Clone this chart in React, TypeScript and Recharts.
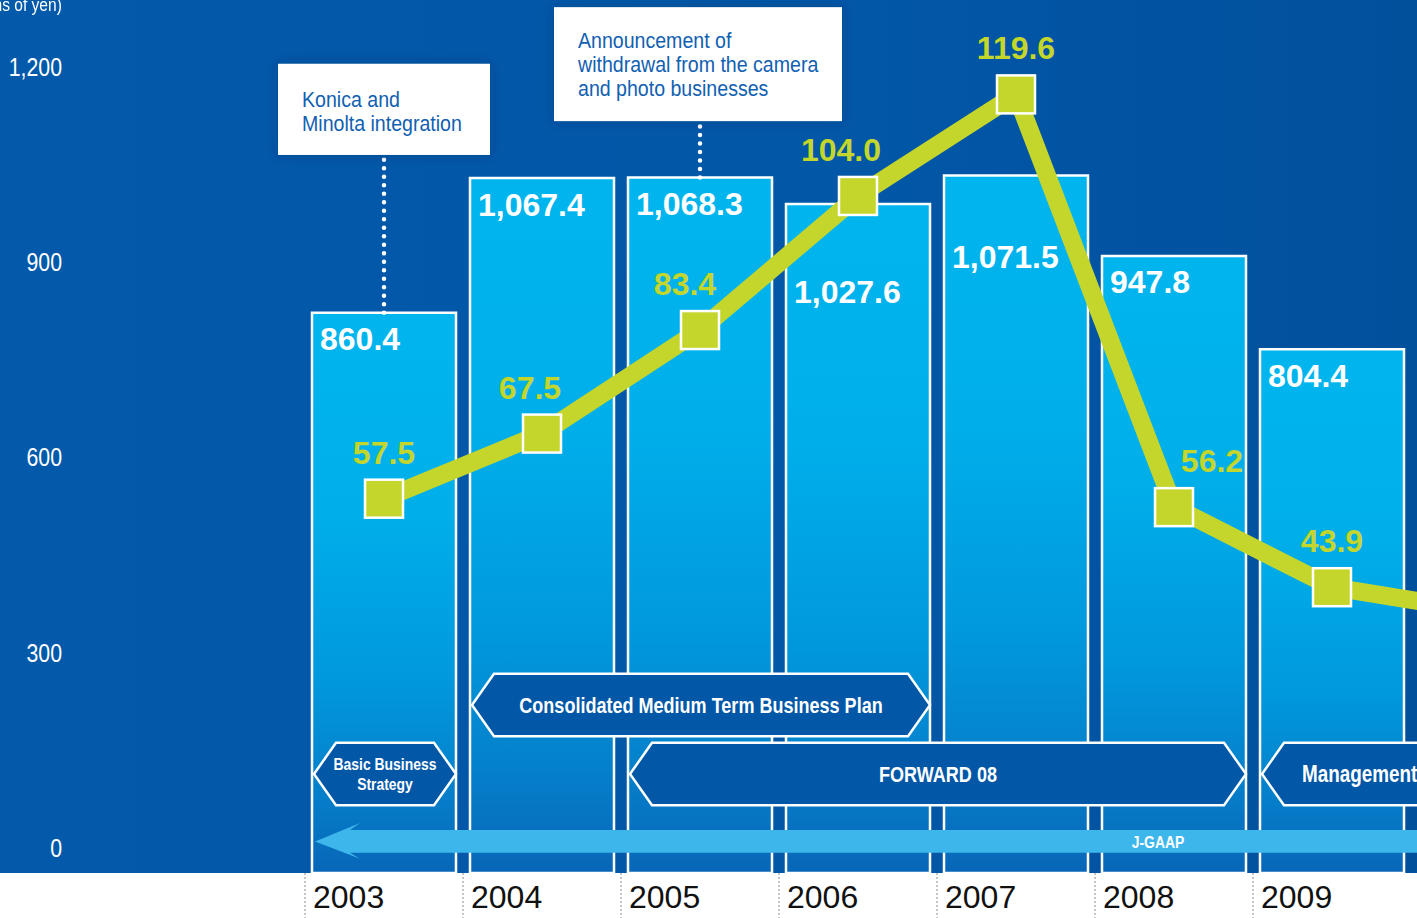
import React from 'react';
import {
  ComposedChart,
  Bar,
  Line,
  XAxis,
  YAxis,
  ReferenceArea,
  ReferenceLine,
  ReferenceDot,
  LabelList,
} from 'recharts';

// ---- data ----
const years = ['2003', '2004', '2005', '2006', '2007', '2008', '2009', '2010'];
const netSales: (number | null)[] = [860.4, 1067.4, 1068.3, 1027.6, 1071.5, 947.8, 804.4, null];
const operatingIncome = [57.5, 67.5, 83.4, 104.0, 119.6, 56.2, 43.9, 40.0];
const yTicks = [0, 300, 600, 900, 1200];
const unitLabel = '(Billions of yen)';

const plans = [
  { lines: ['Consolidated Medium Term Business Plan'], from: '2004', to: '2006', row: 0 },
  { lines: ['Basic Business', 'Strategy'], from: '2003', to: '2003', row: 1 },
  { lines: ['FORWARD 08'], from: '2005', to: '2008', row: 1 },
  { lines: ['Management'], from: '2009', to: '2010', row: 1, start: true },
];

const events = [
  { year: '2003', lines: ['Konica and', 'Minolta integration'] },
  { year: '2005', lines: ['Announcement of', 'withdrawal from the camera', 'and photo businesses'] },
];

const accounting = { label: 'J-GAAP', from: '2003', to: '2010', labelAt: '2008' };

const data = years.map((y, i) => ({ year: y, sales: netSales[i], op: operatingIncome[i] }));

// ---- styles ----
const SANS = '"Liberation Sans", Arial, Helvetica, sans-serif';
const NARROW_SX = 0.82;
const LIME = '#c4d62c';
const BG = '#0257a7';
const BANNER = '#0257a7';
const Y_MAX = 1341;
const rowRange = [
  [210, 306],
  [104, 200],
];
const eventBox = [
  { y1: 1103, y2: 1243, w: 212, dx: 0, textTop: 43.5 },
  { y1: 1155, y2: 1330, w: 288, dx: -2, textTop: 40.5 },
];
const barLabelDy: Record<number, number> = { 3: 61, 4: 55 };
const lineLabelDx: Record<number, number> = { 1: -12, 2: -15, 3: -17, 5: 38 };

const fmt = (v: number) =>
  v.toLocaleString('en-US', { minimumFractionDigits: 1, maximumFractionDigits: 1 });

// condensed text: Liberation Sans squeezed horizontally
const NText = (props: any) => {
  const { x, y, sx = NARROW_SX, children, ...rest } = props;
  return (
    <text transform={`translate(${x},${y}) scale(${sx},1)`} x={0} y={0} fontFamily={SANS} {...rest}>
      {children}
    </text>
  );
};

const YTick = (props: any) => {
  const { x, y, payload } = props;
  return (
    <NText x={x} y={y - 16} textAnchor="end" fill="#ffffff" fontSize={26}>
      {payload.value.toLocaleString('en-US')}
    </NText>
  );
};

const YearTick = (props: any) => {
  const { x, y, payload, index } = props;
  if (netSales[index] == null) return null;
  return (
    <g>
      <line x1={x - 79} x2={x - 79} y1={y} y2={y + 45} stroke="#8c8c8c" strokeWidth={1} strokeDasharray="2 2" />
      <text x={x - 71} y={y + 35} fill="#111" fontFamily={SANS} fontSize={32}>
        {payload.value}
      </text>
    </g>
  );
};

const BarValueLabel = (props: any) => {
  const { x, y, value, index } = props;
  if (value == null) return null;
  return (
    <text
      x={Number(x) + 8}
      y={Number(y) + 37.5 + (barLabelDy[index] || 0)}
      fill="#ffffff"
      fontFamily={SANS}
      fontWeight="bold"
      fontSize={32}
    >
      {fmt(value)}
    </text>
  );
};

const LineValueLabel = (props: any) => {
  const { x, y, value, index } = props;
  if (value == null) return null;
  return (
    <text
      x={Number(x) + (lineLabelDx[index] || 0)}
      y={Number(y) - 35}
      textAnchor="middle"
      fill={LIME}
      fontFamily={SANS}
      fontWeight="bold"
      fontSize={32}
    >
      {Number(value).toFixed(1)}
    </text>
  );
};

const SquareDot = (props: any) => {
  const { cx, cy, index } = props;
  if (cx == null || cy == null) return <g key={`d${index}`} />;
  return (
    <rect
      key={`d${index}`}
      x={cx - 19}
      y={cy - 19}
      width={38}
      height={38}
      fill={LIME}
      stroke="#ffffff"
      strokeWidth={2.5}
    />
  );
};

const Banner = (props: any) => {
  const { x, y, width, height, lines, start } = props;
  const x0 = x + 9;
  const x1 = x + width - 7;
  const ym = y + height / 2;
  const ind = 22;
  const pts = [
    [x0, ym],
    [x0 + ind, y],
    [x1 - ind, y],
    [x1, ym],
    [x1 - ind, y + height],
    [x0 + ind, y + height],
  ]
    .map((p) => p.join(','))
    .join(' ');
  const two = lines.length > 1;
  const fs = two ? 17 : start ? 23 : 22;
  return (
    <g>
      <polygon points={pts} fill={BANNER} stroke="#ffffff" strokeWidth={2.5} />
      {lines.map((t: string, i: number) => (
        <NText
          key={i}
          x={start ? x0 + 40 : (x0 + x1) / 2}
          y={two ? ym - 10 + i * 20 + 6 : ym + 8}
          textAnchor={start ? 'start' : 'middle'}
          fill="#ffffff"
          fontWeight="bold"
          fontSize={fs}
        >
          {t}
        </NText>
      ))}
    </g>
  );
};

const Arrow = (props: any) => {
  const { x, y, width, height } = props;
  const tip = x + 10;
  const back = x + 55;
  const end = x + width;
  const pts = [
    [tip, y + height / 2],
    [back, y - 7],
    [back - 10, y],
    [end, y],
    [end, y + height],
    [back - 10, y + height],
    [back, y + height + 6],
  ]
    .map((p) => p.join(','))
    .join(' ');
  return <polygon points={pts} fill="#3db6eb" />;
};

const EventBox = (props: any) => {
  const { x, y, width, height, lines, box } = props;
  const cx = x + width / 2 + box.dx;
  const left = cx - box.w / 2;
  return (
    <g>
      <rect x={left} y={y} width={box.w} height={height} fill="#ffffff" filter="url(#boxShadow)" />
      {lines.map((t: string, i: number) => (
        <NText key={i} x={left + 24} y={y + box.textTop + i * 24} sx={0.87} fill="#1160b1" fontSize={22.5}>
          {t}
        </NText>
      ))}
    </g>
  );
};

export default function App() {
  return (
    <div
      style={{
        position: 'absolute',
        left: 0,
        top: 0,
        width: 1417,
        height: 918,
        overflow: 'hidden',
        background: `linear-gradient(to bottom, transparent 0, transparent 873px, #ffffff 873px), linear-gradient(to right, #0359aa, ${BG} 60%, #01509c)`,
      }}
    >
      <div
        style={{
          position: 'absolute',
          right: 1417 - 62,
          top: -6,
          color: '#ffffff',
          fontFamily: SANS,
          fontSize: 19,
          whiteSpace: 'nowrap',
          transform: `scaleX(${NARROW_SX})`,
          transformOrigin: 'right top',
        }}
      >
        {unitLabel}
      </div>
      <ComposedChart
        width={1569}
        height={918}
        data={data}
        margin={{ top: 0, right: 0, bottom: 0, left: 0 }}
        style={{ position: 'absolute', left: 0, top: 0 }}
      >
        <defs>
          <linearGradient id="barGrad" x1="0" y1="0" x2="0" y2="1">
            <stop offset="0" stopColor="#00b5ee" />
            <stop offset="0.35" stopColor="#00afea" />
            <stop offset="0.65" stopColor="#0099dd" />
            <stop offset="0.85" stopColor="#0580cb" />
            <stop offset="1" stopColor="#0866b7" />
          </linearGradient>
          <filter id="boxShadow" x="-20%" y="-20%" width="140%" height="140%">
            <feDropShadow dx="0" dy="0" stdDeviation="6" floodColor="#00285a" floodOpacity="0.35" />
          </filter>
        </defs>
        <XAxis
          dataKey="year"
          height={45}
          axisLine={false}
          tickLine={false}
          tickSize={0}
          tickMargin={0}
          interval={0}
          tick={<YearTick />}
        />
        <YAxis
          yAxisId="left"
          width={305}
          domain={[0, Y_MAX]}
          ticks={yTicks}
          axisLine={false}
          tickLine={false}
          tickSize={0}
          tickMargin={243}
          tick={<YTick />}
        />
        <YAxis yAxisId="op" hide domain={[0, Y_MAX / 10]} />
        <Bar
          yAxisId="left"
          dataKey="sales"
          barSize={144}
          fill="url(#barGrad)"
          stroke="#ffffff"
          strokeWidth={2.5}
          isAnimationActive={false}
        >
          <LabelList dataKey="sales" content={<BarValueLabel />} />
        </Bar>
        {plans.map((p, i) => (
          <ReferenceArea
            key={`plan${i}`}
            yAxisId="left"
            x1={p.from}
            x2={p.to}
            y1={rowRange[p.row][0]}
            y2={rowRange[p.row][1]}
            ifOverflow="visible"
            zIndex={350}
            shape={(sp: any) => <Banner {...sp} lines={p.lines} start={p.start} />}
          />
        ))}
        <ReferenceArea
          yAxisId="left"
          x1={accounting.from}
          x2={accounting.to}
          y1={31}
          y2={66}
          ifOverflow="visible"
          zIndex={350}
          shape={(sp: any) => <Arrow {...sp} />}
        />
        <ReferenceDot
          yAxisId="left"
          x={accounting.labelAt}
          y={48}
          r={0}
          ifOverflow="visible"
          zIndex={360}
          shape={(sp: any) => (
            <NText
              x={sp.cx - 16}
              y={sp.cy + 6}
              textAnchor="middle"
              fill="#ffffff"
              fontWeight="bold"
              fontSize={17}
            >
              {accounting.label}
            </NText>
          )}
        />
        {events.map((e, i) => (
          <ReferenceLine
            key={`evl${i}`}
            yAxisId="left"
            segment={[
              { x: e.year, y: netSales[years.indexOf(e.year)] as number },
              { x: e.year, y: eventBox[i].y1 },
            ]}
            stroke="#ffffff"
            strokeWidth={4.5}
            strokeDasharray="0 8.5"
            strokeLinecap="round"
            ifOverflow="visible"
            zIndex={350}
          />
        ))}
        {events.map((e, i) => (
          <ReferenceArea
            key={`ev${i}`}
            yAxisId="left"
            x1={e.year}
            x2={e.year}
            y1={eventBox[i].y1}
            y2={eventBox[i].y2}
            ifOverflow="visible"
            zIndex={360}
            shape={(sp: any) => <EventBox {...sp} lines={e.lines} box={eventBox[i]} />}
          />
        ))}
        <Line
          yAxisId="op"
          dataKey="op"
          type="linear"
          stroke={LIME}
          strokeWidth={18}
          dot={<SquareDot />}
          activeDot={false}
          isAnimationActive={false}
        >
          <LabelList dataKey="op" content={<LineValueLabel />} />
        </Line>
      </ComposedChart>
    </div>
  );
}
